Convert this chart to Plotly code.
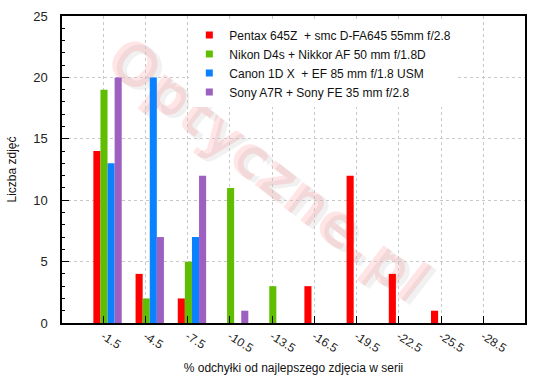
import plotly.graph_objects as go

categories = ["-1.5", "-4.5", "-7.5", "-10.5", "-13.5", "-16.5", "-19.5", "-22.5", "-25.5", "-28.5"]
series_names = [
    "Pentax 645Z  + smc D-FA645 55mm f/2.8",
    "Nikon D4s + Nikkor AF 50 mm f/1.8D",
    "Canon 1D X  + EF 85 mm f/1.8 USM",
    "Sony A7R + Sony FE 35 mm f/2.8",
]
pentax = [14, 4, 2, 0, 0, 3, 12, 4, 1, 0]
nikon = [19, 2, 5, 11, 3, 0, 0, 0, 0, 0]
canon = [13, 20, 7, 0, 0, 0, 0, 0, 0, 0]
sony = [20, 7, 12, 1, 0, 0, 0, 0, 0, 0]
colors = ["#ff0000", "#60be00", "#0a82ff", "#9e60c0"]

FONT = "Liberation Sans, Arial, sans-serif"

fig = go.Figure()
bar_w = 0.168
offsets = [-0.237, -0.069, 0.099, 0.267]
for name, vals, col, off in zip(series_names, [pentax, nikon, canon, sony], colors, offsets):
    fig.add_trace(go.Bar(
        x=categories, y=vals, name=name, width=bar_w, offset=off,
        marker=dict(color=col, line=dict(width=0)), showlegend=False,
    ))
    fig.add_trace(go.Scatter(
        x=[None], y=[None], mode="markers", name=name,
        marker=dict(symbol="square", size=7, color=col),
    ))

fig.update_layout(
    width=550, height=380,
    margin=dict(l=62, r=25, t=16, b=57),
    paper_bgcolor="white", plot_bgcolor="white",
    barmode="overlay",
    font=dict(family=FONT, size=12, color="#222222"),
    legend=dict(
        x=0.275, y=0.985, xanchor="left", yanchor="top",
        bgcolor="white", borderwidth=0,
        font=dict(family=FONT, size=12, color="#111111"),
        itemwidth=30,
    ),
    shapes=[
        dict(type="rect", xref="paper", yref="paper", x0=0.06, x1=0.86, y0=0.02, y1=0.98,
             line=dict(width=0), fillcolor="rgba(0,0,0,0)", layer="below",
             label=dict(text="<b>Optyczne.pl</b>", textangle=38,
                        font=dict(family="DejaVu Sans", size=58, color="rgba(170,170,170,0.16)"),
                        textposition="middle center")),
        dict(type="rect", xref="paper", yref="paper", x0=0.05, x1=0.85, y0=0.03, y1=0.99,
             line=dict(width=0), fillcolor="rgba(0,0,0,0)", layer="below",
             label=dict(text="<b>Optyczne.pl</b>", textangle=38,
                        font=dict(family="DejaVu Sans", size=58, color="rgba(255,40,40,0.12)"),
                        textposition="middle center")),
    ],
)

fig.update_xaxes(
    type="category", range=[-0.98, 9.99],
    showline=True, linecolor="black", linewidth=1.5, mirror=True,
    ticks="inside", ticklen=7, tickcolor="black",
    tickangle=32, tickfont=dict(family=FONT, size=12, color="#222222"),
    showgrid=True, gridcolor="#c8c8c8", griddash="dot", gridwidth=1,
    title=dict(text="% odchyłki od najlepszego zdjęcia w serii",
               font=dict(family=FONT, size=12, color="#111111"), standoff=9),
    automargin=False, zeroline=False,
)
fig.update_yaxes(
    range=[0, 25], dtick=5,
    showline=True, linecolor="black", linewidth=1.5, mirror=True,
    ticks="inside", ticklen=7, tickcolor="black",
    minor=dict(dtick=1, ticks="inside", ticklen=3, tickcolor="black", showgrid=False),
    tickfont=dict(family=FONT, size=13, color="#222222"),
    showgrid=True, gridcolor="#c8c8c8", griddash="dot", gridwidth=1,
    ticklabelstandoff=10,
    title=dict(text="Liczba zdjęć", font=dict(family=FONT, size=12, color="#111111"), standoff=14),
    automargin=False, zeroline=False,
)

fig.write_html("out.html")
